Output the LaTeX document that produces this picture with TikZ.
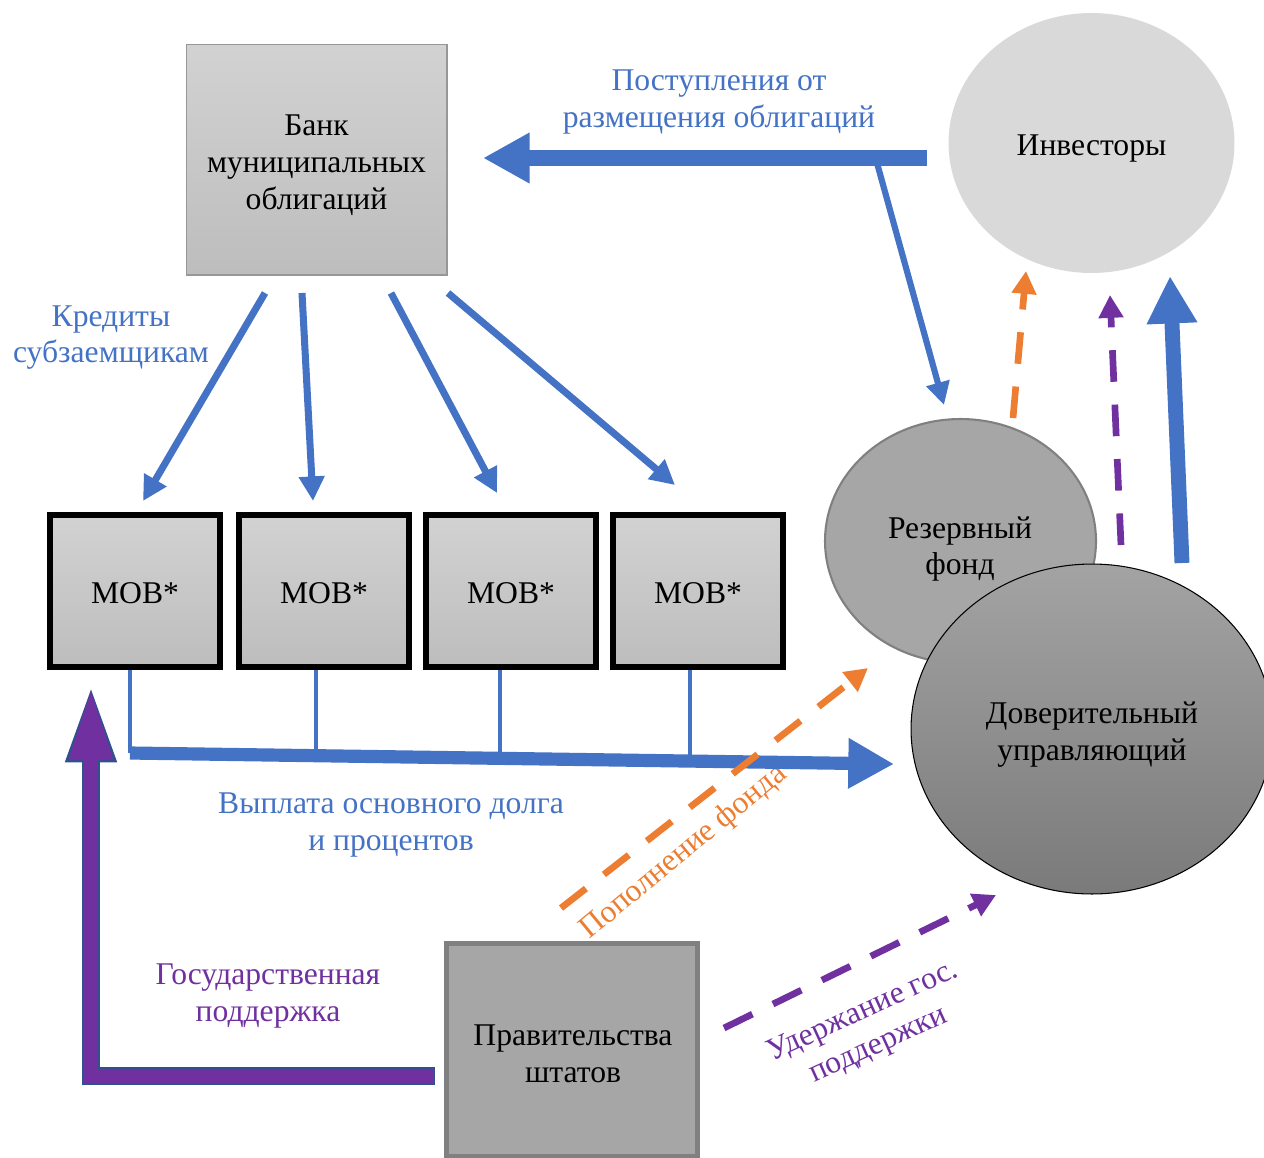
\documentclass[tikz,border=0pt]{standalone}
\usepackage{fontspec}
\setmainfont{Liberation Serif}
\usetikzlibrary{arrows.meta,shapes.geometric,calc}
\definecolor{cblue}{HTML}{4472C4}
\definecolor{corange}{HTML}{ED7D31}
\definecolor{cpurple}{HTML}{7030A0}
\definecolor{cdark}{HTML}{2F528F}
\definecolor{gtop}{HTML}{D2D2D2}
\definecolor{gbot}{HTML}{BDBDBD}
\begin{document}
\begin{tikzpicture}[x=0.02cm,y=-0.02cm,
  txt/.style={font=\fontsize{18}{21}\selectfont, align=center},
  lbl/.style={txt, inner sep=0pt},
  bankbox/.style={rectangle, draw=gbot!80!black, line width=0.6pt, top color=gtop, bottom color=gbot, minimum width=5.22cm, minimum height=4.62cm, inner sep=0pt},
  mobbox/.style={rectangle, draw=black, line width=3.1pt, top color=gtop, bottom color=gbot, minimum width=3.4cm, minimum height=3.04cm, inner sep=0pt},
  govbox/.style={rectangle, draw=black!50, line width=2.8pt, fill=black!35, minimum width=5.02cm, minimum height=4.26cm, inner sep=0pt},
  ell/.style={ellipse, inner sep=0pt},
  bigblue/.style={draw=cblue, line width=9pt, -{Triangle[length=26.5pt,width=27pt]}},
  thinblue/.style={draw=cblue, line width=4pt, -{Triangle[length=14pt,width=14pt]}},
  stem/.style={draw=cblue, line width=2.8pt},
  dashor/.style={draw=corange, line width=3.8pt, dash pattern=on 18pt off 13pt, -{Triangle[length=13pt,width=13.5pt]}},
  dashpu/.style={draw=cpurple, line width=3.8pt, dash pattern=on 18pt off 13pt, -{Triangle[length=13pt,width=13.5pt]}}
]
\useasboundingbox (0,0) rectangle (1264,1157);

% nodes
\node[bankbox] (bank) at (316.5,159.5) {};
\node[txt] (banktxt) at ($(bank.center)+(0,6)$) {Банк\\муниципальных\\облигаций};
\node[mobbox] (mob1) at (135,591) {};
\node[mobbox] (mob2) at (324,591) {};
\node[mobbox] (mob3) at (511,591) {};
\node[mobbox] (mob4) at (698,591) {};
\node[txt] (mob1txt) at ($(mob1.center)+(0,2)$) {MOB*};
\node[txt] (mob2txt) at ($(mob2.center)+(0,2)$) {MOB*};
\node[txt] (mob3txt) at ($(mob3.center)+(0,2)$) {MOB*};
\node[txt] (mob4txt) at ($(mob4.center)+(0,2)$) {MOB*};
\node[ell, fill=black!15, minimum width=5.72cm, minimum height=5.2cm] (inv) at (1091.5,143) {};
\node[txt] (invtxt) at ($(inv.center)+(0,6)$) {Инвесторы};
\node[ell, fill=black!35, draw=black!50, line width=1.2pt, minimum width=5.42cm, minimum height=4.88cm] (res) at (960.5,541) {};
\node[txt] (restxt) at (960,549) {Резервный\\фонд};
\node[ell, draw=black, line width=0.6pt, top color=black!36, bottom color=black!52, minimum width=7.24cm, minimum height=6.6cm] (trust) at (1092,729) {};
\node[txt] (trusttxt) at ($(trust.center)+(0,6)$) {Доверительный\\управляющий};
\node[govbox] (gov) at (572,1050) {};
\node[txt] (govtxt) at ($(gov.center)+(1,3.5)$) {Правительства\\штатов};

% labels
\node[lbl, text=cblue] (lblpost) at (719,102) {Поступления от\\размещения облигаций};
\node[lbl, text=cblue] (lblcred) at (111,337.5) {Кредиты\\субзаемщикам};
\node[lbl, text=cblue] (lblpay) at (391,825) {Выплата основного долга\\и процентов};
\node[lbl, text=cpurple] (lblgos) at (268,996) {Государственная\\поддержка};
\node[lbl, text=corange, rotate=39.5] (lblrep) at (684,852) {Пополнение фонда};
\node[lbl, text=cpurple, rotate=24.5] (lblhold) at (871,1029) {Удержание гос.\\поддержки};

% coordinates
\coordinate (topR) at (927,158);
\coordinate (topL) at (483,158);
\coordinate (brS) at (877,163);
\coordinate (brE) at (944,405);
\coordinate (b1s) at (265,293); \coordinate (b1e) at (143,501);
\coordinate (b2s) at (302,293); \coordinate (b2e) at (313,501);
\coordinate (b3s) at (391,293); \coordinate (b3e) at (497,493);
\coordinate (b4s) at (448,293); \coordinate (b4e) at (675,485);
\coordinate (payL) at (130,753);
\coordinate (payR) at (894,764);
\coordinate (j2) at ($(payL)!0.2435!(payR)$);
\coordinate (j3) at ($(payL)!0.4843!(payR)$);
\coordinate (j4) at ($(payL)!0.733!(payR)$);
\coordinate (upS) at (1182,563); \coordinate (upE) at (1170,276);
\coordinate (orS) at (1013,418); \coordinate (orE) at (1026,271);
\coordinate (puS) at (1121,545); \coordinate (puE) at (1110,295);
\coordinate (odS) at (561,908); \coordinate (odE) at (868,668);
\coordinate (pdS) at (724,1028); \coordinate (pdE) at (996,895);
\coordinate (gsS) at (435,1076); \coordinate (gsE) at (91,685);

% connectors
\draw[bigblue] (topR) -- (topL);
\draw[thinblue, line width=3.5pt, -{Triangle[length=13pt,width=13pt]}] (brS) -- (brE);
\draw[thinblue] (b1s) -- (b1e);
\draw[thinblue] (b2s) -- (b2e);
\draw[thinblue] (b3s) -- (b3e);
\draw[thinblue] (b4s) -- (b4e);

\draw[stem] (mob1.south -| payL) -- (payL);
\draw[stem] (mob2.south -| j2) -- (j2);
\draw[stem] (mob3.south -| j3) -- (j3);
\draw[stem] (mob4.south -| j4) -- (j4);
\draw[draw=cblue, line width=7.5pt, -{Triangle[length=26pt,width=27pt]}] (payL) -- (payR);

\draw[draw=cblue, line width=8.5pt, -{Triangle[length=27pt,width=27pt]}] (upS) -- (upE);
\draw[dashor] (orS) -- (orE);
\draw[dashpu] (puS) -- (puE);
\draw[dashor] (odS) -- (odE);
\draw[dashpu] (pdS) -- (pdE);

\draw[draw=cdark, line width=9.8pt, -{Triangle[length=44pt,width=26.5pt]}] (gsS) -| (gsE);
\draw[draw=cpurple, line width=8pt, -{Triangle[length=41pt,width=23pt]}] ([xshift=-0.02cm]gsS) -| ([yshift=-0.06cm]gsE);
\end{tikzpicture}
\end{document}
